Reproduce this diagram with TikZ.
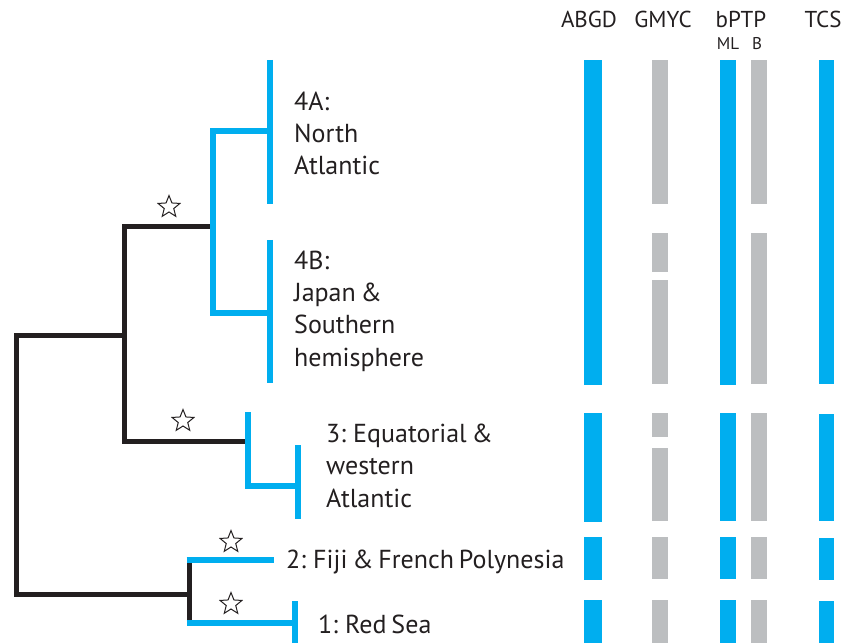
\documentclass[tikz,border=0pt]{standalone}
\usepackage{fontspec}
\setmainfont{PT Sans}[WordSpace=0.7]
\usetikzlibrary{shapes.geometric}
\definecolor{cladeblue}{HTML}{00AEEF}
\definecolor{bargray}{HTML}{BCBEC0}
\definecolor{treeblack}{HTML}{231F20}
\tikzset{
  stem/.style={draw=treeblack, line width=5pt, line join=miter},
  twig/.style={draw=cladeblue, line width=6pt, line join=miter},
  bluebar/.style={fill=cladeblue},
  graybar/.style={fill=bargray},
  support/.style={star, star points=5, star point ratio=2.3, minimum size=23pt,
    inner sep=0pt, draw=treeblack, line width=1pt, fill=white},
  % multi-line labels are placed by the baseline of their last line
  clade/.style={anchor=base west, align=left, inner sep=0pt, text=treeblack,
    font=\fontsize{26}{32.3}\selectfont},
  colhead/.style={anchor=base, inner sep=0pt, text=treeblack,
    font=\fontsize{23}{26}\selectfont},
  subhead/.style={anchor=base, inner sep=0pt, text=treeblack,
    font=\fontsize{17}{19}\selectfont},
}
\begin{document}
\begin{tikzpicture}[x=1pt, y=-1pt]
\useasboundingbox (0,0) rectangle (843,644);

% ---- tree junctions and tips ----
\coordinate (root) at (16,335);
\coordinate (rootlow) at (16,594);
\coordinate (n1) at (124,335);
\coordinate (n1top) at (124,227);
\coordinate (n1bot) at (124,441);
\coordinate (n4) at (213,227);
\coordinate (n4a) at (213,131);
\coordinate (n4b) at (213,313);
\coordinate (t4a) at (270,131);
\coordinate (t4b) at (270,313);
\coordinate (n3) at (248,441);
\coordinate (n3top) at (248,412);
\coordinate (n3bot) at (248,486);
\coordinate (t3) at (298,486);
\coordinate (n12) at (189,594);
\coordinate (n12top) at (189,557);
\coordinate (n12bot) at (189,626);
\coordinate (t2) at (274,560);
\coordinate (t1) at (295,623);

% black backbone
\draw[stem] (n1) -- (root) -- (rootlow) -- (n12);
\draw[stem] (n4) -- (n1top) -- (n1bot) -- (n3);
\draw[stem] (n12top) -- (n12bot);

% blue clades
\draw[twig] (t4a) -- (n4a) -- (n4b) -- (t4b);
\draw[twig] (270,60) -- (270,204);
\draw[twig] (270,240) -- (270,383);
\draw[twig] (n3top) -- (n3bot) -- (t3);
\draw[twig] (298,445) -- (298,519);
\draw[twig] (n12top |- t2) ++(-2.5,0) -- (t2);
\draw[twig] (n12bot |- t1) ++(-2.5,0) -- (t1);
\draw[twig] (295,601) -- (295,643);

% support stars
\node[support] (s4) at (169,207) {};
\node[support] (s3) at (183,421) {};
\node[support] (s2) at (231,542) {};
\node[support] (s1) at (231,604) {};

% clade labels
\node[clade] (l4a) at (294,175) {4A:\\North\\Atlantic};
\node[clade] (l4b) at (294,366) {4B:\\Japan \&\\Southern\\hemisphere};
\node[clade] (l3) at (326,507) {3: Equatorial \&\\western\\Atlantic};
\node[clade] (l2) at (286,568) {2: Fiji \& French Polynesia};
\node[clade] (l1) at (318,633) {1: Red Sea};

% column headings
\node[colhead] (hA) at (589,28) {ABGD};
\node[colhead] (hG) at (663,28) {GMYC};
\node[colhead] (hP) at (741,28) {bPTP};
\node[colhead] (hT) at (823,28) {TCS};
\node[subhead] (hML) at (728,50) {ML};
\node[subhead] (hB) at (757,50) {B};

% ABGD
\foreach \a/\b in {60/385, 413/522, 537/580, 600/643}
  \fill[bluebar] (584,\a) rectangle (602,\b);
% GMYC
\foreach \a/\b in {60/204, 233/272, 280/384, 413/437, 448/521, 537/579, 600/643}
  \fill[graybar] (652,\a) rectangle (668,\b);
% bPTP ML
\foreach \a/\b in {60/385, 413/521, 537/579, 600/643}
  \fill[bluebar] (720,\a) rectangle (736,\b);
% bPTP B
\foreach \a/\b in {60/204, 233/384, 413/521, 537/579, 600/643}
  \fill[graybar] (751,\a) rectangle (767,\b);
% TCS
\foreach \a/\b in {60/384, 414/521, 538/580, 601/643}
  \fill[bluebar] (819,\a) rectangle (834,\b);
\end{tikzpicture}
\end{document}
